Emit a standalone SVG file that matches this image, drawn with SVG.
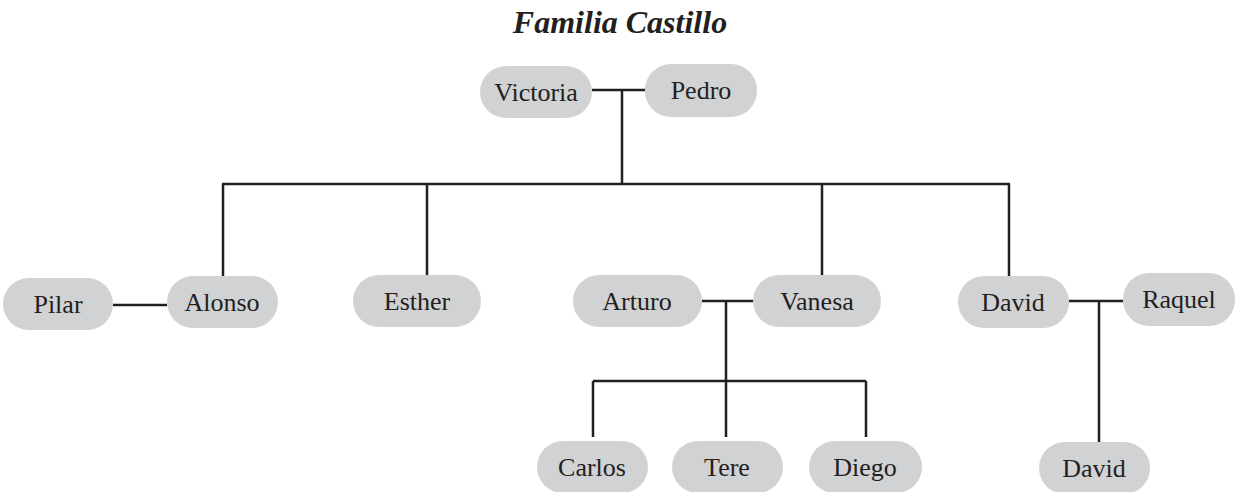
<svg xmlns="http://www.w3.org/2000/svg" width="1239" height="492" viewBox="0 0 1239 492">
<style>
.box{fill:#d1d2d4}
.lbl{font-family:"Liberation Serif","Times New Roman",serif;font-size:26px;fill:#231f20;text-anchor:middle}
.ln{stroke:#231f20;stroke-width:2.5;fill:none}
.title{font-family:"Liberation Serif","Times New Roman",serif;font-size:32px;font-weight:bold;font-style:italic;fill:#231f20;text-anchor:middle}
</style>
<rect width="1239" height="492" fill="#ffffff"/>
<text class="title" x="620" y="33">Familia Castillo</text>
<g id="connectors">
<path class="ln" d="M592 90H645M622 90V184M222 184H1010M223 184V276M427 184V275M822 184V275M1009 184V276"/>
<path class="ln" d="M113 305H167"/>
<path class="ln" d="M702 301H753M726 301V381M593 381H866M593 381V437M726 381V437M866 381V437"/>
<path class="ln" d="M1069 301H1123M1099 301V442"/>
</g>
<g id="victoria"><rect class="box" x="480" y="66" width="112" height="52" rx="26"/><text class="lbl" x="536" y="101">Victoria</text></g>
<g id="pedro"><rect class="box" x="645" y="64" width="112" height="53" rx="26"/><text class="lbl" x="701" y="99">Pedro</text></g>
<g id="pilar"><rect class="box" x="3" y="278" width="110" height="52" rx="26"/><text class="lbl" x="58" y="313">Pilar</text></g>
<g id="alonso"><rect class="box" x="167" y="276" width="111" height="52" rx="26"/><text class="lbl" x="222" y="311">Alonso</text></g>
<g id="esther"><rect class="box" x="353" y="275" width="128" height="52" rx="26"/><text class="lbl" x="417" y="310">Esther</text></g>
<g id="arturo"><rect class="box" x="573" y="275" width="129" height="52" rx="26"/><text class="lbl" x="637" y="310">Arturo</text></g>
<g id="vanesa"><rect class="box" x="753" y="275" width="128" height="52" rx="26"/><text class="lbl" x="817" y="310">Vanesa</text></g>
<g id="david"><rect class="box" x="958" y="276" width="111" height="52" rx="26"/><text class="lbl" x="1013" y="311">David</text></g>
<g id="raquel"><rect class="box" x="1123" y="273" width="112" height="53" rx="26"/><text class="lbl" x="1179" y="308">Raquel</text></g>
<g id="carlos"><rect class="box" x="537" y="441" width="111" height="52" rx="26"/><text class="lbl" x="592" y="476">Carlos</text></g>
<g id="tere"><rect class="box" x="672" y="441" width="111" height="52" rx="26"/><text class="lbl" x="727" y="476">Tere</text></g>
<g id="diego"><rect class="box" x="809" y="441" width="113" height="52" rx="26"/><text class="lbl" x="865" y="476">Diego</text></g>
<g id="david2"><rect class="box" x="1039" y="442" width="111" height="52" rx="26"/><text class="lbl" x="1094" y="477">David</text></g>
</svg>
